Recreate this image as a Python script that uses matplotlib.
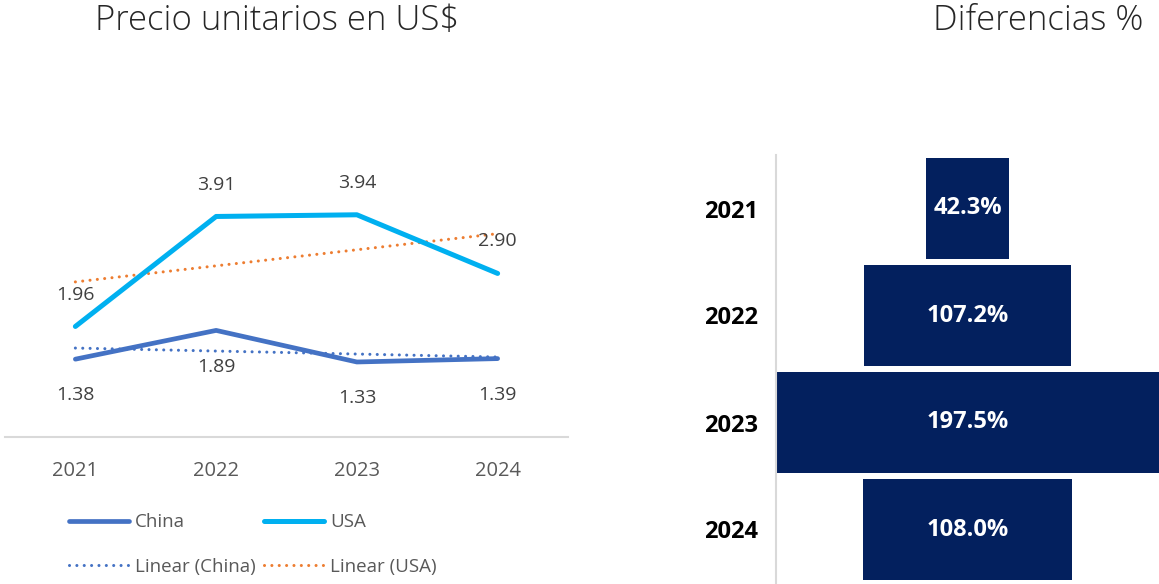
import numpy as np
import matplotlib
matplotlib.use("Agg")
import matplotlib.pyplot as plt

# ---- data ----
years = ["2021", "2022", "2023", "2024"]
china = [1.38, 1.89, 1.33, 1.39]
usa = [1.96, 3.91, 3.94, 2.90]
diff_years = ["2021", "2022", "2023", "2024"]
diff_pct = [42.3, 107.2, 197.5, 108.0]

plt.rcParams['font.family'] = ['Open Sans', 'DejaVu Sans']

W, H = 1159, 584
fig = plt.figure(figsize=(W / 100, H / 100), dpi=100)

def fx(px):
    return px / W

def fy(py):
    return 1 - py / H

# ---- left line chart ----
ax = fig.add_axes([fx(5), fy(437), fx(568) - fx(5), fy(155) - fy(437)])
x = np.arange(1, len(years) + 1)
c_china = "#4472C4"
c_usa = "#00B0F0"
c_usa_tr = "#ED7D31"

l1, = ax.plot(x, china, color=c_china, lw=3.4, solid_capstyle='round', label="China", zorder=3)
l2, = ax.plot(x, usa, color=c_usa, lw=3.6, solid_capstyle='round', label="USA", zorder=3)
pc = np.polyfit(x, china, 1)
pu = np.polyfit(x, usa, 1)
dots = (0, (0.01, 2.4))
l3, = ax.plot(x, np.polyval(pc, x), color=c_china, lw=2.2, linestyle=dots,
              dash_capstyle='round', label="Linear (China)", zorder=2)
l4, = ax.plot(x, np.polyval(pu, x), color=c_usa_tr, lw=2.2, linestyle=dots,
              dash_capstyle='round', label="Linear (USA)", zorder=2)

ax.set_xlim(0.5, len(years) + 0.5)
ax.set_ylim(0, 5.0)
ax.set_xticks(x)
ax.set_xticklabels(years)
ax.tick_params(axis='x', length=0, pad=17, labelsize=14.5, labelcolor="#595959")
ax.set_yticks([])
for s in ["top", "right", "left"]:
    ax.spines[s].set_visible(False)
ax.spines["bottom"].set_color("#D9D9D9")
ax.spines["bottom"].set_linewidth(1.5)
ax.patch.set_alpha(0)

for xi, v in zip(x, usa):
    ax.annotate(f"{v:.2f}", (xi, v), xytext=(0, 23), textcoords="offset points",
                ha="center", va="center", fontsize=14, color="#404040")
for xi, v in zip(x, china):
    ax.annotate(f"{v:.2f}", (xi, v), xytext=(0, -26), textcoords="offset points",
                ha="center", va="center", fontsize=14, color="#404040")

fig.text(fx(277), fy(21), "Precio unitarios en US$", ha="center", va="center",
         fontsize=25, fontweight="light", color="#262626")

fig.legend([l1, l3, l2, l4], ["China", "Linear (China)", "USA", "Linear (USA)"],
           ncol=2, loc="upper left", bbox_to_anchor=(fx(60), fy(504)),
           frameon=False, fontsize=13.5, handlelength=3.2, handletextpad=0.3,
           columnspacing=0.45, labelspacing=1.4, borderpad=0, labelcolor="#595959")

# ---- right funnel bar chart ----
ax2 = fig.add_axes([fx(776), fy(583), 1 - fx(776), fy(155) - fy(583)])
yy = np.arange(len(diff_years))
vals = np.array(diff_pct)
ax2.barh(yy, vals, left=-vals / 2, height=0.94, color="#03205E")
half = vals.max() / 2
ax2.set_xlim(-half, half)
ax2.set_ylim(len(diff_years) - 0.5, -0.5)
ax2.set_yticks(yy)
ax2.set_yticklabels(diff_years, fontsize=17, fontweight="bold", color="black")
ax2.tick_params(axis='y', length=0, pad=13)
ax2.set_xticks([])
for s in ["top", "right", "bottom"]:
    ax2.spines[s].set_visible(False)
ax2.spines["left"].set_color("#D9D9D9")
ax2.spines["left"].set_linewidth(1.5)
for yi, v in zip(yy, vals):
    ax2.text(0, yi, f"{v:.1f}%", ha="center", va="center", fontsize=17,
             fontweight="bold", color="white")

fig.text(fx(1038), fy(21), "Diferencias %", ha="center", va="center",
         fontsize=25, fontweight="light", color="#262626")

fig.savefig("out.png", dpi=100)
